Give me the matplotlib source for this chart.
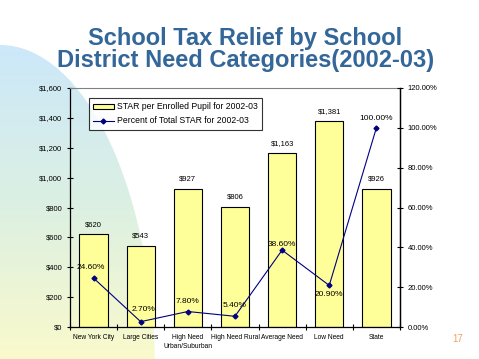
import numpy as np
import matplotlib
matplotlib.use('Agg')
import matplotlib.pyplot as plt
from matplotlib.patches import Ellipse
from matplotlib.ticker import FuncFormatter, FixedLocator

categories = ['New York City', 'Large Cities', 'High Need\nUrban/Suburban', 'High Need Rural',
              'Average Need', 'Low Need', 'State']
star_per_pupil = [620, 543, 927, 806, 1163, 1381, 926]
pct_total = [24.6, 2.7, 7.8, 5.4, 38.6, 20.9, 100.0]
bar_name = 'STAR per Enrolled Pupil for 2002-03'
line_name = 'Percent of Total STAR for 2002-03'

plt.rcParams['font.family'] = ['Liberation Sans', 'DejaVu Sans']

fig = plt.figure(figsize=(4.79, 3.59), dpi=100)
fig.patch.set_facecolor('white')

# background swoosh (gradient ellipse at the left)
bg = fig.add_axes([0, 0, 1, 1], zorder=0)
bg.set_xlim(0, 479)
bg.set_ylim(359, 0)
bg.axis('off')
t = np.linspace(0, 1, 256)[:, None]
top = np.array([0.80, 0.91, 0.98])
mid = np.array([0.86, 0.94, 0.89])
bot = np.array([0.98, 0.98, 0.80])
grad = np.where(t < 0.5, top + (mid - top) * (t / 0.5), mid + (bot - mid) * ((t - 0.5) / 0.5))
grad = np.repeat(grad[:, None, :], 2, axis=1).reshape(256, 2, 3)
im = bg.imshow(grad, extent=[0, 479, 359, 45], aspect='auto')
ell = Ellipse((0, 375), 2 * 155, 2 * 330, transform=bg.transData, facecolor='none', edgecolor='none')
bg.add_patch(ell)
im.set_clip_path(ell)

fig.text(0.512, 0.862, 'School Tax Relief by School\nDistrict Need Categories(2002-03)',
         ha='center', va='center', fontsize=17, fontweight='bold', color='#336699',
         linespacing=0.9)
fig.text(0.955, 0.055, '17', color='#F4A060', fontsize=7, ha='center', va='center')

ax = fig.add_axes([0.146, 0.089, 0.689, 0.666], zorder=1)
ax.patch.set_alpha(0)
x = np.arange(len(categories))
ax.bar(x, star_per_pupil, width=0.6, color='#FFFF99', edgecolor='black', linewidth=0.8,
       label=bar_name, zorder=2)
ax.set_xlim(-0.5, len(categories) - 0.5)
ax.set_ylim(0, 1600)
ax.set_yticks(np.arange(0, 1601, 200))
ax.yaxis.set_major_formatter(FuncFormatter(lambda v, p: '${:,.0f}'.format(v)))
ax.tick_params(axis='y', direction='inout', length=4, width=0.8, labelsize=5.5)
ax.xaxis.set_major_locator(FixedLocator(np.arange(-0.5, len(categories), 1.0)))
ax.xaxis.set_minor_locator(FixedLocator(x))
ax.set_xticklabels([])
ax.set_xticklabels(categories, minor=True, fontsize=4.8, linespacing=1.4)
ax.tick_params(axis='x', which='major', direction='inout', length=4, width=0.8)
ax.tick_params(axis='x', which='minor', length=0, pad=5)
ax.spines['top'].set_color('#808080')
for s in ['left', 'bottom', 'right']:
    ax.spines[s].set_linewidth(0.9)

for xi, v in zip(x, star_per_pupil):
    ax.text(xi, v + 40, '${:,.0f}'.format(v), ha='center', va='bottom', fontsize=5.5)

ax2 = ax.twinx()
ax2.set_zorder(2)
ax2.patch.set_alpha(0)
ax2.plot(x, np.array(pct_total) / 100, color='#000080', marker='D', markersize=2.5,
         linewidth=0.8, label=line_name)
ax2.set_ylim(0, 1.2)
ax2.set_yticks(np.arange(0, 1.21, 0.2))
ax2.yaxis.set_major_formatter(FuncFormatter(lambda v, p: '{:.2f}%'.format(v * 100)))
ax2.tick_params(axis='y', direction='inout', length=4, width=0.8, labelsize=5.5)
for s in ['top', 'left', 'bottom']:
    ax2.spines[s].set_visible(False)
ax2.spines['right'].set_linewidth(0.9)

offsets = [(-0.05, 0.055), (0.05, 0.06), (0, 0.05), (0, 0.055), (0, 0.03), (0, -0.045), (0, 0.045)]
for xi, p, (dx, dy) in zip(x, pct_total, offsets):
    ax2.text(xi + dx, p / 100 + dy, '{:.2f}%'.format(p), ha='center', va='center', fontsize=6)

h1, l1 = ax.get_legend_handles_labels()
h2, l2 = ax2.get_legend_handles_labels()
leg = ax2.legend(h1 + h2, l1 + l2, loc='upper left', bbox_to_anchor=(0.057, 0.958),
                 borderaxespad=0, fontsize=6.2, frameon=True, fancybox=False, edgecolor='black',
                 handlelength=2.4, handleheight=0.5, borderpad=0.5, labelspacing=0.6,
                 handletextpad=0.4)
leg.get_frame().set_linewidth(0.8)

fig.savefig('out.png', dpi=100)
